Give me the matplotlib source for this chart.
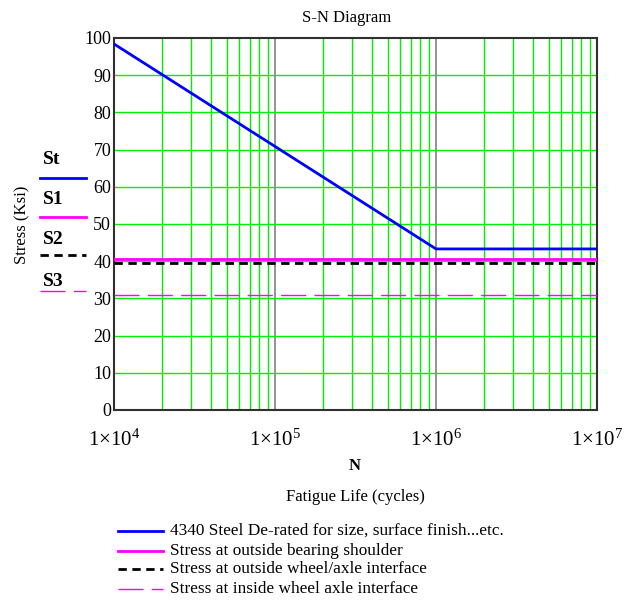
import math
import matplotlib
matplotlib.use('Agg')
import matplotlib.pyplot as plt
from matplotlib.lines import Line2D
from matplotlib.ticker import FixedLocator, FuncFormatter

plt.rcParams['font.family'] = 'Liberation Serif'
plt.rcParams['mathtext.fontset'] = 'custom'
plt.rcParams['mathtext.rm'] = 'Liberation Serif'
plt.rcParams['mathtext.it'] = 'Liberation Serif'

# S-N curve
N_st = [1e4, 1e6, 1e7]
St = [98.4, 43.3, 43.3]
N_lvl = [1e4, 1e7]
S1 = [40.6, 40.6]
S2 = [39.5, 39.5]
S3 = [30.8, 30.8]

legend_names = ['4340 Steel De-rated for size, surface finish...etc.',
                'Stress at outside bearing shoulder',
                'Stress at outside wheel/axle interface',
                'Stress at inside wheel axle interface']
short_names = ['St', 'S1', 'S2', 'S3']

blue = '#0000ff'
mag = '#ff00ff'
green = '#00ee00'

fig = plt.figure(figsize=(6.28, 6.09), dpi=100)
ax = fig.add_axes([114/628, 1-410/609, 483/628, 372/609])

ax.set_xscale('log')
ax.set_xlim(1e4, 1e7)
ax.set_ylim(0, 100)

# grid
for dec in [1e4, 1e5, 1e6]:
    for m in range(2, 10):
        ax.axvline(dec*m, color=green, lw=1, zorder=1)
for dec in [1e5, 1e6]:
    ax.axvline(dec, color='#808080', lw=1.2, zorder=1)
for y in range(10, 100, 10):
    ax.axhline(y, color=green, lw=1, zorder=1)

ax.plot(N_st, St, color=blue, lw=2, zorder=3)
ax.plot(N_lvl, S1, color=mag, lw=2, zorder=3)
ax.plot(N_lvl, S2, color='black', lw=2, ls=(0, (3, 2)), zorder=3)
ax.plot(N_lvl, S3, color=mag, lw=1, ls=(0, (18, 6)), zorder=3)

ax.xaxis.set_major_locator(FixedLocator([1e4, 1e5, 1e6, 1e7]))
ax.xaxis.set_minor_locator(FixedLocator([]))
ax.xaxis.set_major_formatter(FuncFormatter(lambda v, p: r'$1{\times}10^{%d}$' % round(math.log10(v))))
ax.set_yticks(range(0, 101, 10))
ax.tick_params(axis='both', length=0)
ax.tick_params(axis='x', pad=14, labelsize=15)
ax.tick_params(axis='y', pad=2, labelsize=13)
for s in ax.spines.values():
    s.set_color('#303030')
    s.set_linewidth(1.5)

fig.text(347/628, 1-18/609, 'S-N Diagram', ha='center', va='center', fontsize=12)
fig.text(22/628, 1-225/609, 'Stress (Ksi)', ha='center', va='center', rotation=90, fontsize=12)
fig.text(355/628, 1-466/609, 'N', ha='center', va='center', fontsize=12, fontweight='bold')
fig.text(355/628, 1-497/609, 'Fatigue Life (cycles)', ha='center', va='center', fontsize=12)

# left labels
styles = [dict(color=blue, lw=2), dict(color=mag, lw=2),
          dict(color='black', lw=2, ls=(0, (3, 2))), dict(color=mag, lw=1, ls=(0, (18, 6)))]
label_y = [160, 200, 240, 281]
line_y = [178, 217, 255, 291]
for name, st, ly, lny in zip(short_names, styles, label_y, line_y):
    fig.text(43/628, 1-ly/609, name, ha='left', va='center', fontsize=14, fontweight='bold')
    fig.add_artist(Line2D([40/628, 86/628], [1-lny/609, 1-lny/609], transform=fig.transFigure, **st))

# bottom legend
leg_y = [531, 551, 569, 589]
for name, st, y in zip(legend_names, styles, leg_y):
    fig.add_artist(Line2D([118/628, 163/628], [1-y/609, 1-y/609], transform=fig.transFigure, **st))
    fig.text(170/628, 1-y/609, name, ha='left', va='center', fontsize=12.4)

fig.savefig('out.png', dpi=100)
